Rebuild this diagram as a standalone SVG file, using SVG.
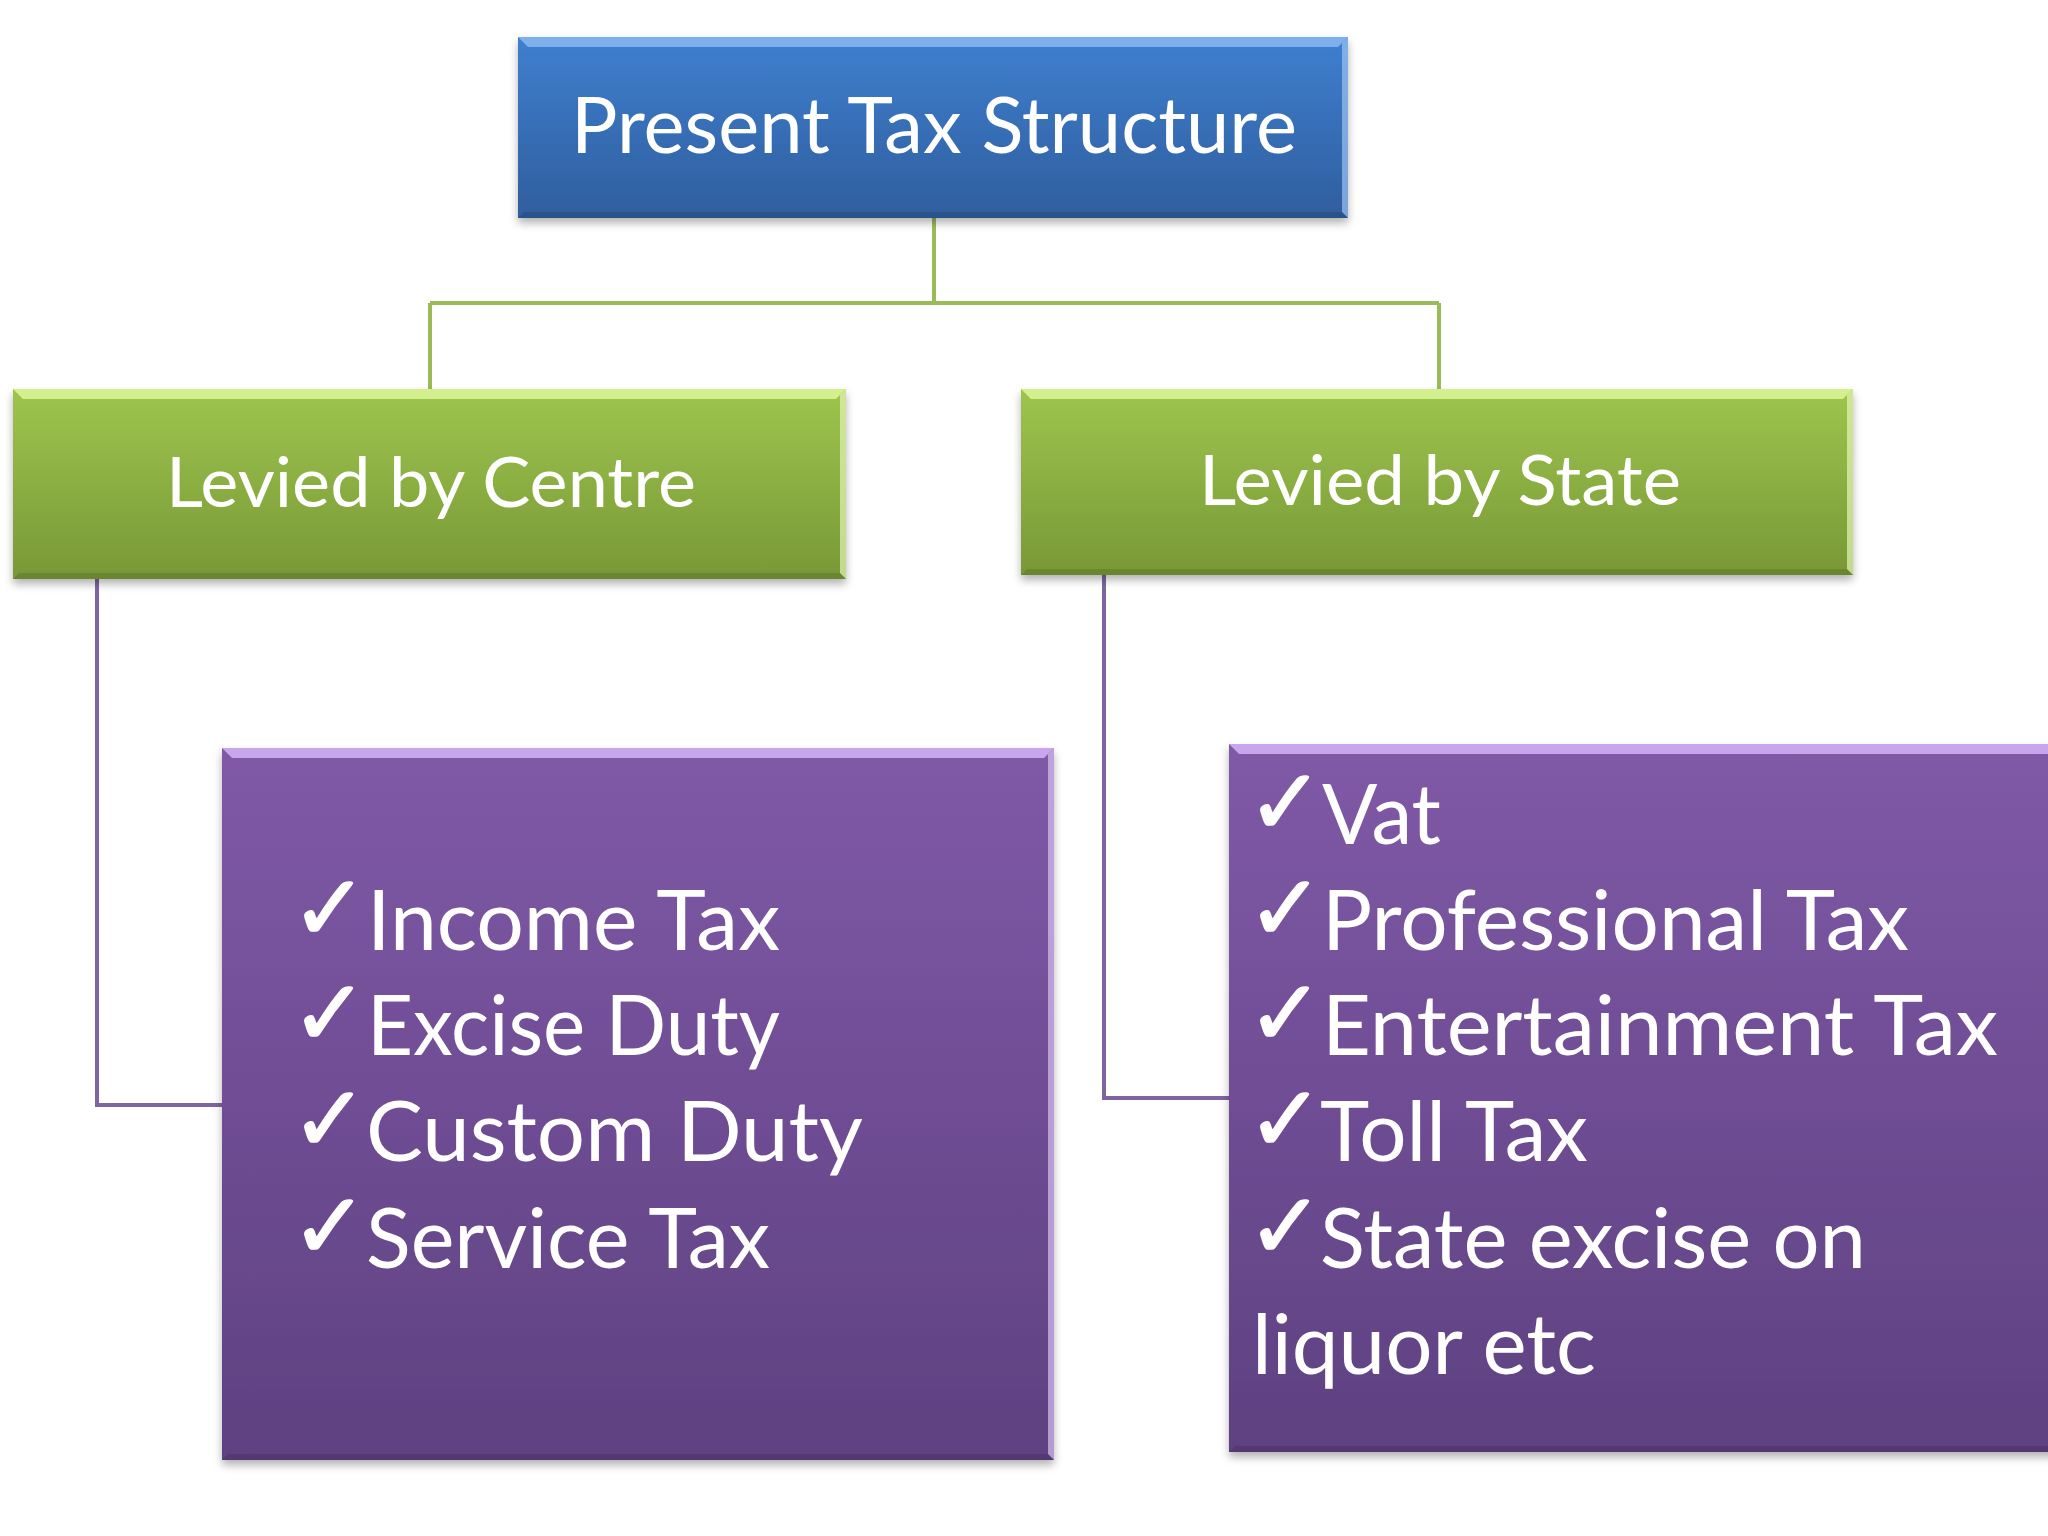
<svg xmlns="http://www.w3.org/2000/svg" width="2048" height="1536" viewBox="0 0 2048 1536">
  <defs>
    <linearGradient id="gBlue" x1="0" y1="0" x2="0" y2="1">
      <stop offset="0" stop-color="#3F7FCF"/>
      <stop offset="1" stop-color="#2F5E9E"/>
    </linearGradient>
    <linearGradient id="gGreen" x1="0" y1="0" x2="0" y2="1">
      <stop offset="0" stop-color="#9EC54E"/>
      <stop offset="1" stop-color="#789836"/>
    </linearGradient>
    <linearGradient id="gPurple" x1="0" y1="0" x2="0" y2="1">
      <stop offset="0" stop-color="#8059A7"/>
      <stop offset="1" stop-color="#5E4181"/>
    </linearGradient>
    <filter id="shadow" x="-5%" y="-5%" width="110%" height="120%">
      <feDropShadow dx="0" dy="5" stdDeviation="4" flood-color="#000" flood-opacity="0.3"/>
    </filter>
    <style>
      .lbl { font-family: Lato, "Open Sans", sans-serif; fill: #FFFFFF; }
      .chk { font-family: "DejaVu Sans", sans-serif; fill: #FFFFFF; stroke: #FFFFFF; stroke-width: 1.5; font-size: 92px; }
      .hiB { fill: #7FB0EE; }
      .hiG { fill: #D4F08E; }
      .hiP { fill: #C7A6EC; }
      .edgeB { fill: #9CC3F2; opacity: 0.7; }
      .edgeG { fill: #E3F7B5; opacity: 0.7; }
      .edgeP { fill: #D9C2F2; opacity: 0.7; }
      .dark { fill: #000; opacity: 0.12; }
    </style>
  </defs>
  <rect width="2048" height="1536" fill="#FFFFFF"/>

  <g id="connectors" fill="none" stroke-width="4">
    <path d="M934 218 V303 M430 303 H1439 M430 303 V389 M1439 303 V389" stroke="#9BBB59"/>
    <path d="M97 579 V1105 H222" stroke="#8064A2"/>
    <path d="M1104 575 V1098 H1229" stroke="#8064A2"/>
  </g>

  <g id="node-root">
    <rect x="518" y="37" width="830" height="181" fill="url(#gBlue)" filter="url(#shadow)"/>
    <polygon class="hiB" points="518,37 1348,37 1338,47 528,47"/>
    <polygon class="edgeB" points="1348,37 1348,218 1342,212 1342,43"/>
    <polygon class="dark" points="518,218 1348,218 1342,212 524,212"/>
    <text class="lbl" x="571" y="153" font-size="78" textLength="726" lengthAdjust="spacingAndGlyphs">Present Tax Structure</text>
  </g>

  <g id="node-centre">
    <rect x="13" y="389" width="833" height="190" fill="url(#gGreen)" filter="url(#shadow)"/>
    <polygon class="hiG" points="13,389 846,389 836,399 23,399"/>
    <polygon class="edgeG" points="846,389 846,579 840,573 840,395"/>
    <polygon class="dark" points="13,579 846,579 840,573 19,573"/>
    <text class="lbl" x="166" y="507" font-size="70" textLength="530" lengthAdjust="spacingAndGlyphs">Levied by Centre</text>
  </g>

  <g id="node-state">
    <rect x="1021" y="389" width="832" height="186" fill="url(#gGreen)" filter="url(#shadow)"/>
    <polygon class="hiG" points="1021,389 1853,389 1843,399 1031,399"/>
    <polygon class="edgeG" points="1853,389 1853,575 1847,569 1847,395"/>
    <polygon class="dark" points="1021,575 1853,575 1847,569 1027,569"/>
    <text class="lbl" x="1199" y="505" font-size="70" textLength="482" lengthAdjust="spacingAndGlyphs">Levied by State</text>
  </g>

  <g id="node-centre-list">
    <rect x="222" y="748" width="832" height="712" fill="url(#gPurple)" filter="url(#shadow)"/>
    <polygon class="hiP" points="222,748 1054,748 1044,758 232,758"/>
    <polygon class="edgeP" points="1054,748 1054,1460 1048,1454 1048,754"/>
    <polygon class="dark" points="222,1460 1054,1460 1048,1454 228,1454"/>
    <text class="chk" x="291" y="940">✓</text>
    <text class="lbl" x="367" y="950" font-size="84" textLength="413" lengthAdjust="spacingAndGlyphs">Income Tax</text>
    <text class="chk" x="291" y="1045">✓</text>
    <text class="lbl" x="367" y="1055" font-size="84" textLength="413" lengthAdjust="spacingAndGlyphs">Excise Duty</text>
    <text class="chk" x="291" y="1151">✓</text>
    <text class="lbl" x="366" y="1161" font-size="84" textLength="497" lengthAdjust="spacingAndGlyphs">Custom  Duty</text>
    <text class="chk" x="291" y="1258">✓</text>
    <text class="lbl" x="366" y="1268" font-size="84" textLength="404" lengthAdjust="spacingAndGlyphs">Service Tax</text>
  </g>

  <g id="node-state-list">
    <rect x="1229" y="744" width="830" height="708" fill="url(#gPurple)" filter="url(#shadow)"/>
    <polygon class="hiP" points="1229,744 2059,744 2049,754 1239,754"/>
    <polygon class="dark" points="1229,1452 2059,1452 2053,1446 1235,1446"/>
    <text class="chk" x="1247" y="834">✓</text>
    <text class="lbl" x="1322" y="844" font-size="84" textLength="119" lengthAdjust="spacingAndGlyphs">Vat</text>
    <text class="chk" x="1247" y="940">✓</text>
    <text class="lbl" x="1322" y="950" font-size="84" textLength="587" lengthAdjust="spacingAndGlyphs">Professional Tax</text>
    <text class="chk" x="1247" y="1045">✓</text>
    <text class="lbl" x="1322" y="1055" font-size="84" textLength="676" lengthAdjust="spacingAndGlyphs">Entertainment Tax</text>
    <text class="chk" x="1247" y="1151">✓</text>
    <text class="lbl" x="1320" y="1161" font-size="84" textLength="268" lengthAdjust="spacingAndGlyphs">Toll Tax</text>
    <text class="chk" x="1247" y="1258">✓</text>
    <text class="lbl" x="1320" y="1268" font-size="84" textLength="546" lengthAdjust="spacingAndGlyphs">State excise on</text>
    <text class="lbl" x="1252" y="1374" font-size="84" textLength="344" lengthAdjust="spacingAndGlyphs">liquor etc</text>
  </g>
</svg>
